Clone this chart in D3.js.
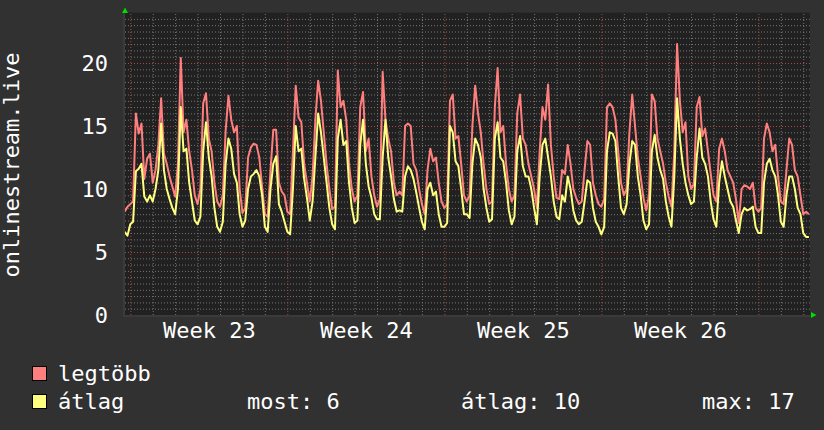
<!DOCTYPE html>
<html>
<head>
<meta charset="UTF-8">
<title>onlinestream.live</title>
<script src="https://cdn.jsdelivr.net/npm/d3@7"></script>
<style>
  body { margin: 0; background: #313131; }
  svg { display: block; font-family: "DejaVu Sans Mono", monospace; }
</style>
</head>
<body>
<svg id="chart" width="824" height="430"></svg>
<script>
// samples every 3 hours, first one is sunday 18:00 before week 23 (day 0 = monday)
const startDay = -0.25;
const stepDay = 0.125;

// "legtöbb" (max) series
const maxValues = [
  8.2, 8.6,
  8.8, 9.0, 16.0, 14.4, 15.2, 10.8, 12.4, 12.8,
  10.5, 11.5, 13.5, 17.2, 12.8, 12.0, 11.0, 10.2,
  9.4, 12.0, 20.4, 14.5, 15.5, 13.0, 11.5, 9.5,
  8.8, 10.0, 16.8, 17.6, 14.0, 13.0, 10.5, 9.0,
  8.6, 9.5, 14.6, 17.4, 15.5, 14.5, 15.0, 10.0,
  8.1, 8.5, 12.5, 13.3, 13.6, 13.5, 12.5, 10.2,
  8.0, 7.8, 11.5, 14.7, 14.7, 10.5, 9.8, 9.5,
  8.2, 8.0, 13.0, 18.2, 15.7, 15.3, 12.0, 10.5,
  9.0, 11.0, 15.5, 18.6, 17.0, 14.5, 12.0, 10.0,
  8.4, 8.6, 19.4, 16.5, 17.0, 15.5, 12.0, 10.0,
  9.0, 9.5, 16.5, 17.7, 13.0, 14.0, 11.0, 9.5,
  8.6, 9.2, 19.3, 15.5, 14.0, 13.0, 10.5, 9.5,
  9.8, 9.5, 15.0, 15.2, 15.0, 12.0, 11.5, 10.0,
  8.8, 8.0, 11.5, 13.2, 12.2, 12.5, 10.5, 9.0,
  8.5, 8.8, 17.0, 17.5, 14.0, 14.2, 12.0, 9.5,
  9.0, 9.5, 15.0, 18.2, 16.0, 14.5, 12.0, 10.0,
  8.8, 9.0, 16.5, 19.6, 14.5, 15.0, 12.0, 10.0,
  9.0, 9.5, 16.0, 17.5, 14.0, 13.5, 12.0, 11.0,
  10.0, 8.5, 13.0, 16.5, 15.5, 18.3, 13.5, 11.0,
  9.3, 9.2, 11.5, 11.2, 13.5, 12.0, 10.0, 9.3,
  8.8, 9.0, 11.5, 13.8, 13.5, 10.5, 9.5, 8.8,
  8.6, 9.2, 16.5, 16.8, 16.5, 15.5, 13.0, 10.5,
  9.5, 10.0, 14.5, 17.5, 15.0, 12.5, 11.0, 9.3,
  8.3, 9.5, 17.5, 17.0, 14.0, 13.0, 12.0, 10.5,
  9.4, 8.6, 13.0, 21.5, 17.0, 14.5, 15.3, 11.0,
  10.0, 10.4, 16.5, 17.3, 14.2, 14.8, 13.0, 11.2,
  9.5, 9.0, 13.2, 14.0, 13.0, 11.5, 11.0, 10.5,
  9.2, 7.3, 10.0, 10.3, 10.2, 10.0, 10.5, 8.5,
  8.2, 8.5, 14.0, 15.2, 14.5, 13.0, 13.5, 11.0,
  9.0, 8.8, 11.5, 14.0, 13.5, 11.5, 11.0, 9.5,
  8.0, 8.2, 8.0
];

// "átlag" (average) series
const avgValues = [
  6.6, 6.3,
  7.2, 7.4, 11.4, 11.6, 12.0, 9.4, 9.0, 9.5,
  9.0, 10.0, 11.5, 15.2, 11.5, 10.0, 9.2, 8.5,
  8.0, 10.0, 16.5, 13.0, 13.2, 10.5, 9.0, 7.5,
  7.2, 7.8, 13.0, 15.3, 12.5, 11.0, 8.5, 7.0,
  6.6, 7.4, 12.0, 14.0, 13.2, 11.2, 10.5, 8.0,
  7.0, 7.5, 10.0, 11.0, 11.2, 11.5, 11.0, 9.5,
  7.0, 6.6, 10.0, 12.0, 12.6, 8.8, 8.2, 7.4,
  6.6, 6.4, 10.0, 15.0, 13.0, 13.2, 10.8, 9.3,
  7.5, 9.0, 12.5, 16.0, 14.5, 12.5, 10.5, 8.5,
  7.2, 6.8, 14.0, 15.5, 13.5, 13.8, 10.5, 8.5,
  7.3, 7.5, 13.5, 15.5, 12.0, 10.2, 9.3, 8.0,
  7.6, 7.6, 12.5, 15.5, 12.5, 11.0, 9.2, 8.2,
  8.3, 8.2, 11.0, 11.8, 11.5, 10.8, 9.7, 8.5,
  7.4, 6.8, 10.0, 10.5, 9.5, 9.8, 8.0, 7.0,
  7.0, 7.3, 15.0, 14.5, 12.2, 11.8, 10.0, 8.0,
  8.0, 7.7, 12.0, 14.0, 13.5, 12.5, 10.0, 8.5,
  7.4, 7.6, 14.0, 15.3, 12.5, 12.2, 10.5, 8.3,
  7.2, 7.8, 13.0, 14.2, 11.8, 11.0, 11.0, 10.0,
  8.5, 7.2, 11.0, 13.5, 14.0, 12.5, 11.0, 9.0,
  7.8, 7.6, 9.5, 9.0, 11.0, 10.0, 8.3, 7.5,
  7.2, 7.4, 9.0, 10.7, 10.5, 8.5, 7.4, 7.0,
  6.4, 7.0, 13.0, 14.5, 14.4, 13.8, 11.0, 8.5,
  8.0, 8.8, 12.0, 13.8, 13.5, 11.0, 9.5, 7.5,
  6.8, 7.2, 13.0, 14.3, 12.5, 11.5, 10.8, 9.0,
  7.8, 7.0, 11.0, 17.2, 14.0, 12.0, 10.5, 9.5,
  8.8, 9.0, 12.5, 14.8, 12.5, 12.0, 11.0, 9.0,
  7.6, 7.0, 10.5, 12.2, 11.0, 10.0, 9.0, 8.6,
  7.5, 6.5, 8.0, 8.5, 8.3, 8.4, 8.6, 7.0,
  6.5, 6.5, 10.5, 12.0, 12.4, 11.5, 11.0, 9.5,
  7.4, 7.0, 9.5, 11.0, 11.0, 10.0, 8.5, 8.0,
  6.5, 6.2, 6.2
];

const yTicks = [0, 5, 10, 15, 20];
const weekLabels = ["Week 23", "Week 24", "Week 25", "Week 26"];
const weekCenters = [3.5, 10.5, 17.5, 24.5];
const weekStarts = [0, 7, 14, 21, 28];
const seriesNames = ["legtöbb", "átlag"];
const seriesColors = ["#ff7f7f", "#ffff7f"];
const statLabels = ["most: 6", "átlag: 10", "max: 17"];

const svg = d3.select("#chart");
const plotLeft = 125, plotRight = 810, plotTop = 12.6, plotBottom = 315;

const x = d3.scaleLinear().domain([-0.236, 30.30]).range([plotLeft, plotRight]);
const y = d3.scaleLinear().domain([0, 24]).range([plotBottom, plotTop]);

svg.append("rect").attr("width", 824).attr("height", 430).attr("fill", "#313131");
svg.append("rect")
    .attr("x", plotLeft).attr("y", plotTop)
    .attr("width", plotRight - plotLeft).attr("height", plotBottom - plotTop)
    .attr("fill", "#212121");

// minor grid
const minorY = d3.range(0.5, 24, 0.5).filter(v => v % 5 !== 0);
const minorX = d3.range(0, 31).filter(d => weekStarts.indexOf(d) < 0);

svg.append("g")
    .attr("transform", "translate(" + plotLeft + ",0)")
    .call(d3.axisLeft(y).tickValues(minorY).tickSize(-(plotRight - plotLeft)).tickFormat(""))
    .call(g => g.select(".domain").remove())
    .selectAll("line").attr("stroke", "#767676").attr("stroke-dasharray", "1,2");

svg.append("g")
    .attr("transform", "translate(0," + plotBottom + ")")
    .call(d3.axisBottom(x).tickValues(minorX).tickSize(-(plotBottom - plotTop)).tickFormat(""))
    .call(g => g.select(".domain").remove())
    .selectAll("line").attr("stroke", "#767676").attr("stroke-dasharray", "1,2");

// major grid
svg.append("g")
    .attr("transform", "translate(" + plotLeft + ",0)")
    .call(d3.axisLeft(y).tickValues(yTicks.slice(1)).tickSize(-(plotRight - plotLeft)).tickFormat(""))
    .call(g => g.select(".domain").remove())
    .selectAll("line").attr("stroke", "#a84848").attr("stroke-dasharray", "1,2");

svg.append("g")
    .attr("transform", "translate(0," + plotBottom + ")")
    .call(d3.axisBottom(x).tickValues(weekStarts).tickSize(-(plotBottom - plotTop)).tickFormat(""))
    .call(g => g.select(".domain").remove())
    .selectAll("line").attr("stroke", "#a84848").attr("stroke-dasharray", "1,2");

// axis lines
svg.append("line").attr("x1", plotLeft - 1).attr("x2", plotLeft - 1).attr("y1", plotTop).attr("y2", plotBottom + 1)
    .attr("stroke", "#3a3a3a").attr("stroke-width", 2);
svg.append("line").attr("x1", plotLeft - 2).attr("x2", plotRight + 1).attr("y1", plotBottom + 1).attr("y2", plotBottom + 1)
    .attr("stroke", "#3a3a3a").attr("stroke-width", 2);

// data lines
svg.append("clipPath").attr("id", "plot-clip")
    .append("rect").attr("x", plotLeft).attr("y", plotTop)
    .attr("width", plotRight - plotLeft).attr("height", plotBottom - plotTop);

const line = d3.line()
    .x((d, i) => x(startDay + i * stepDay))
    .y(d => y(d));

[maxValues, avgValues].forEach((vals, k) => {
    svg.append("path")
        .datum(vals)
        .attr("clip-path", "url(#plot-clip)")
        .attr("fill", "none")
        .attr("stroke", seriesColors[k])
        .attr("stroke-width", 2)
        .attr("stroke-linejoin", "round")
        .attr("d", line);
});

// y labels
svg.append("g")
    .attr("transform", "translate(108,0)")
    .call(d3.axisLeft(y).tickValues(yTicks).tickSize(0).tickPadding(0))
    .call(g => g.select(".domain").remove())
    .selectAll("text")
    .attr("fill", "#ffffff")
    .attr("font-family", "DejaVu Sans Mono")
    .attr("font-size", 22)
    .attr("dy", "0.36em");

// week labels
svg.append("g")
    .attr("transform", "translate(0,338)")
    .call(d3.axisBottom(x).tickValues(weekCenters).tickSize(0).tickPadding(0)
        .tickFormat((d, i) => weekLabels[i]))
    .call(g => g.select(".domain").remove())
    .selectAll("text")
    .attr("fill", "#ffffff")
    .attr("font-family", "DejaVu Sans Mono")
    .attr("font-size", 22)
    .attr("dy", 0)
    .attr("y", 0);

// title
svg.append("text")
    .attr("transform", "translate(19,165) rotate(-90)")
    .attr("text-anchor", "middle")
    .attr("fill", "#ffffff")
    .attr("font-size", 22)
    .text("onlinestream.live");

// arrows
svg.append("path").attr("d", "M122,13L128,13L125,7.5Z").attr("fill", "#00dd00");
svg.append("path").attr("d", "M811,312L811,318L816.5,315Z").attr("fill", "#00dd00");

// legend
seriesNames.forEach((name, k) => {
    const yy = 366.5 + k * 28;
    svg.append("rect")
        .attr("x", 32.5).attr("y", yy).attr("width", 14).attr("height", 14)
        .attr("fill", seriesColors[k]).attr("stroke", "#000").attr("stroke-width", 1);
    svg.append("text")
        .attr("x", 58).attr("y", yy + 14.5)
        .attr("fill", "#ffffff").attr("font-size", 22)
        .text(name);
});

const statX = [247, 461, 702];
statLabels.forEach((s, i) => {
    svg.append("text")
        .attr("x", statX[i]).attr("y", 409)
        .attr("fill", "#ffffff").attr("font-size", 22)
        .text(s);
});
</script>
</body>
</html>
